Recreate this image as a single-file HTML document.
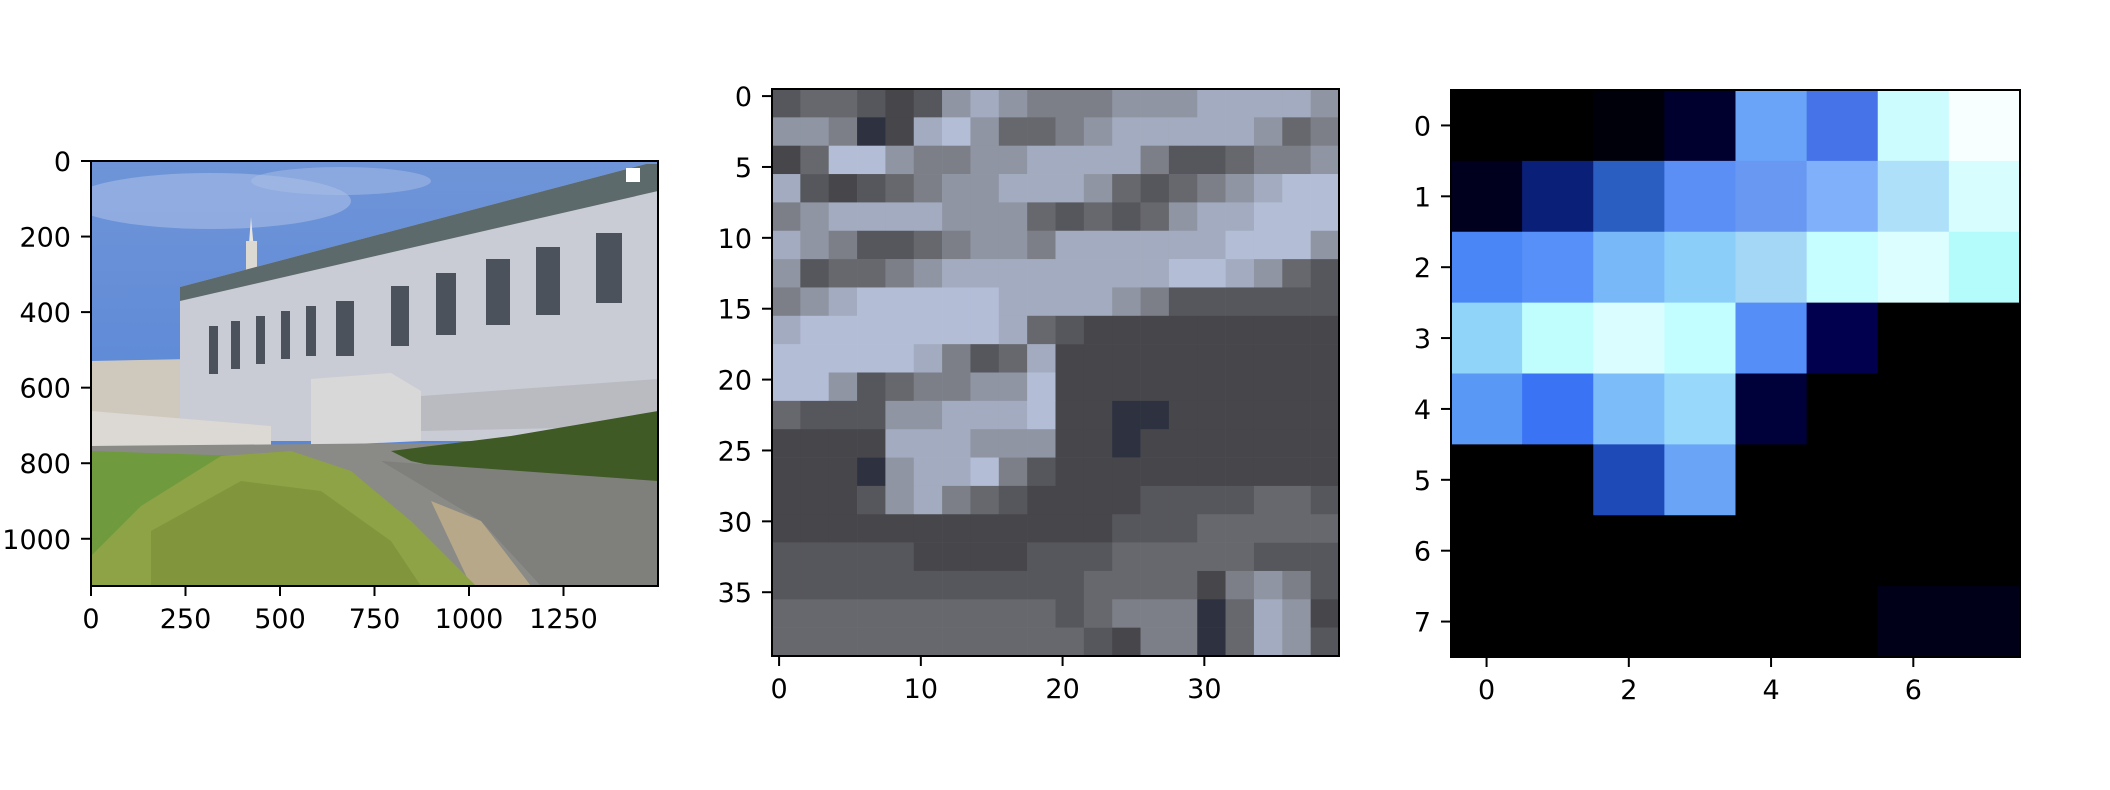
<!DOCTYPE html>
<html><head><meta charset="utf-8">
<style>
html,body{margin:0;padding:0;background:#fff;}
svg{display:block;font-family:"DejaVu Sans","Liberation Sans",sans-serif;}
</style></head>
<body>
<svg id="fig" width="2110" height="790" viewBox="0 0 2110 790" xmlns="http://www.w3.org/2000/svg">
<rect width="2110" height="790" fill="#fff"/>
<!-- Panel 1: photo approximation -->
<g id="p1" transform="translate(91,161)">
  <defs>
    <linearGradient id="sky" x1="0" y1="0" x2="0" y2="1">
      <stop offset="0" stop-color="#6f95d8"/><stop offset="1" stop-color="#4f7fd6"/>
    </linearGradient>
    <clipPath id="c1"><rect width="567" height="425"/></clipPath>
  </defs>
  <g clip-path="url(#c1)">
    <rect width="567" height="425" fill="url(#sky)"/>
    <ellipse cx="120" cy="40" rx="140" ry="28" fill="#a9bde6" opacity="0.6"/>
    <ellipse cx="250" cy="20" rx="90" ry="14" fill="#a9bde6" opacity="0.5"/>
    <polygon points="0,200 100,198 100,290 0,290" fill="#cfc8bd"/>
    <polygon points="155,122 160,56 166,122" fill="#e8e4de"/>
    <rect x="155" y="80" width="11" height="50" fill="#dcd8d2"/>
    <polygon points="89,126 555,3 567,3 567,280 89,280" fill="#c9ccd4"/>
    <polygon points="89,126 555,3 567,3 567,30 89,140" fill="#5c6a6c"/>
    <g fill="#4c525c">
      <rect x="118" y="165" width="9" height="48"/><rect x="140" y="160" width="9" height="48"/>
      <rect x="165" y="155" width="9" height="48"/><rect x="190" y="150" width="9" height="48"/>
      <rect x="215" y="145" width="10" height="50"/><rect x="245" y="140" width="18" height="55"/>
      <rect x="300" y="125" width="18" height="60"/><rect x="345" y="112" width="20" height="62"/>
      <rect x="395" y="98" width="24" height="66"/><rect x="445" y="86" width="24" height="68"/>
      <rect x="505" y="72" width="26" height="70"/>
    </g>
    <polygon points="220,218 300,212 330,230 330,280 220,285" fill="#d9d8d9"/>
    <polygon points="330,235 567,218 567,265 330,270" fill="#b9bbc1"/>
    <polygon points="0,250 180,265 180,290 0,300" fill="#dcd8d4"/>
    <polygon points="0,285 567,280 567,425 0,425" fill="#8a8a86"/>
    <polygon points="0,290 150,295 120,340 0,390" fill="#6f9a3e"/>
    <polygon points="0,380 0,425 120,425 100,340" fill="#6f9a3e"/>
    <polygon points="300,290 420,275 567,250 567,335 420,322 320,300" fill="#3f5a25"/>
    <polygon points="290,300 567,320 567,425 450,425 390,360" fill="#7f7f7c"/>
    <polygon points="340,340 390,360 440,425 380,425" fill="#b7a88a"/>
    <polygon points="0,395 50,345 130,295 200,290 260,310 320,360 360,400 385,425 0,425" fill="#8ea246"/>
    <polygon points="60,370 150,320 230,330 300,380 330,425 60,425" fill="#7c9238" opacity="0.7"/>
    <rect x="535" y="7" width="14" height="14" fill="#fff"/>
  </g>
  <rect width="567" height="425" fill="none" stroke="#000" stroke-width="2"/>
  <g id="p1ticks"></g>
</g>
<g id="p2" transform="translate(772,89)"></g>
<g id="p3" transform="translate(1451,90)"></g>
</svg>
<script>
const NS="http://www.w3.org/2000/svg";
// Panel 1 data
const p1XTicks=[0,250,500,750,1000,1250];
const p1YTicks=[0,200,400,600,800,1000];
const p1W=1500, p1H=1125;
// Panel 2 data (20x20 brightness levels of 40x40 crop, 2x2 blocks)
const p2Levels=[
"3443236765556667777 6".replace(/ /g,''),
"66512786445677777645",
"24886556677775334556",
"73234566777643456788",
"56777766643434677888",
"76533456657777778886",
"63445677777777887643",
"56788888777765333333",
"78888888743222222222",
"88888753472222222222",
"88634556682222222222",
"43336677782211222222",
"22227776662212222222",
"22216778532222222222",
"22236754322223333443",
"22222222222233344444",
"33333222233344444333",
"33333333333444425653",
"44444444443455514762",
"44444444444325514763"];
const p2Palette=["#1c2530","#2e3240","#47474b","#56575c","#66686e","#7c7f88","#8f95a3","#a2abbf","#b3bdd6","#c8d0e2"];
const p2XTicks=[0,10,20,30];
const p2YTicks=[0,5,10,15,20,25,30,35];
const p2N=40;
// Panel 3 data (8x8 cell colours)
const p3Rows=[
["#000000","#000000","#00000a","#00002e","#6aa4f8","#4673e8","#ccfcfe","#f8ffff"],
["#00001e","#0a1f78","#2a5ec0","#5b8ff5","#6898f2","#80b0fa","#aee0fa","#d8fdfe"],
["#4a86f6","#5690f8","#78b8f9","#8ccefa","#a4d6f6","#c6fdfe","#dcfeff","#b4fbfc"],
["#90d4fa","#c0fefe","#dafeff","#c2feff","#548ef6","#00004e","#000000","#000000"],
["#5a98f6","#3a74f4","#7cbcf9","#98d8fa","#00003a","#000000","#000000","#000000"],
["#000000","#000000","#1e4ab8","#6aa4f6","#000000","#000000","#000000","#000000"],
["#000000","#000000","#000000","#000000","#000000","#000000","#000000","#000000"],
["#000000","#000000","#000000","#000000","#000000","#000000","#000018","#000018"]];
const p3XTicks=[0,2,4,6];
const p3YTicks=[0,1,2,3,4,5,6,7];

function mk(tag,attrs,parent){const e=document.createElementNS(NS,tag);for(const k in attrs)e.setAttribute(k,attrs[k]);parent.appendChild(e);return e;}
function ticks(g,W,H,xt,yt,sx,sy){
  xt.forEach(v=>{const x=sx(v);
    const l=mk('line',{x1:x,x2:x,y1:H,y2:H+10,stroke:'#000','stroke-width':2},g);
    
    
    const t=mk('text',{x:x,y:H+42,'text-anchor':'middle','font-size':27,fill:'#000'},g);
    t.textContent=v;
    
    });
  yt.forEach(v=>{const y=sy(v);
    const l=mk('line',{x1:-10,x2:0,y1:y,y2:y,stroke:'#000','stroke-width':2},g);
    
    
    const t=mk('text',{x:-20,y:y+10,'text-anchor':'end','font-size':27,fill:'#000'},g);
    t.textContent=v;
    
    });
}
// Panel 1 ticks
ticks(document.getElementById('p1ticks'),567,425,p1XTicks,p1YTicks,v=>v/p1W*567,v=>v/p1H*425);
// Panel 2
(function(){
  const g=document.getElementById('p2');const S=567,c=S/p2N;
  const sx=v=>(v+0.5)*c, sy=v=>(v+0.5)*c;
  p2Levels.forEach((row,r)=>{row.split('').forEach((ch,col)=>{
    const rc=mk('rect',{x:sx(col*2-0.5),y:sy(r*2-0.5),width:c*2+0.3,height:c*2+0.3,fill:p2Palette[+ch]},g);
    
    });});
  const f=mk('rect',{x:0,y:0,width:S,height:S,fill:'none',stroke:'#000','stroke-width':2},g);
  
  
  ticks(g,S,S,p2XTicks,p2YTicks,sx,sy);
})();
// Panel 3
(function(){
  const g=document.getElementById('p3');const W=569,H=567,cw=W/8,ch=H/8;
  const sx=v=>(v+0.5)*cw, sy=v=>(v+0.5)*ch;
  p3Rows.forEach((row,r)=>row.forEach((col,c)=>{
    const rc=mk('rect',{x:sx(c-0.5),y:sy(r-0.5),width:cw+0.4,height:ch+0.4,fill:col},g);
    
    }));
  const f=mk('rect',{x:0,y:0,width:W,height:H,fill:'none',stroke:'#000','stroke-width':2},g);
  
  
  ticks(g,W,H,p3XTicks,p3YTicks,sx,sy);
})();
</script>
</body></html>
